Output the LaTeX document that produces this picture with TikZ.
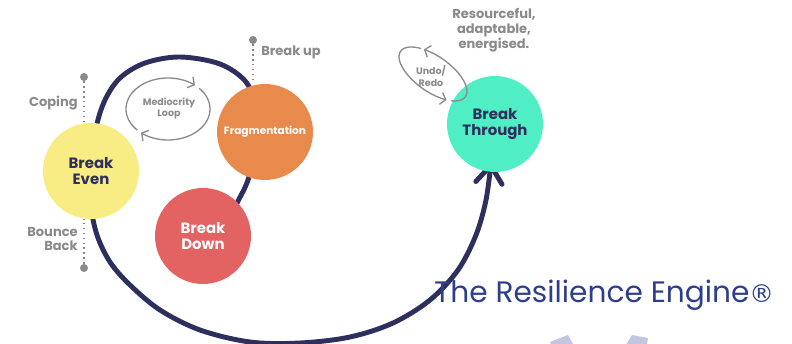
\documentclass[tikz,border=0pt]{standalone}
\usepackage{fontspec}
\setmainfont{Poppins}
\newfontfamily\markfont{DejaVu Sans}
\usetikzlibrary{arrows.meta}

\definecolor{engine}{RGB}{46,47,92}
\definecolor{evenfill}{RGB}{248,236,133}
\definecolor{fragfill}{RGB}{232,138,75}
\definecolor{downfill}{RGB}{227,98,98}
\definecolor{throughfill}{RGB}{80,238,196}
\definecolor{labelgray}{RGB}{138,138,138}
\definecolor{titleblue}{RGB}{47,62,140}
\definecolor{gearfill}{RGB}{196,197,224}

\tikzset{
  stage/.style={circle, minimum size=1.92cm, inner sep=0pt, align=center,
    font=\bfseries\fontsize{8.5}{9.5}\selectfont},
  side/.style={text=labelgray, inner sep=0pt,
    font=\bfseries\fontsize{7.4}{8.4}\selectfont},
  loopnote/.style={text=labelgray, inner sep=0pt, align=center,
    font=\bfseries\fontsize{5.4}{6.3}\selectfont},
  pin/.style={circle, fill=labelgray, minimum size=0.16cm, inner sep=0pt},
  pinline/.style={labelgray, dotted, line width=0.8pt},
  loopline/.style={labelgray, line width=0.75pt,
    -{Straight Barb[length=2.8pt, width=7pt]}},
}

\begin{document}
\begin{tikzpicture}[x=0.02cm, y=-0.02cm]
    \useasboundingbox (0,0) rectangle (792,344);

    % the engine path
    \coordinate (tip) at (491,163);
    \draw[engine, line width=2.8pt, line cap=round,
          -{Straight Barb[round, length=10pt, width=15pt]}]
      plot[smooth, tension=0.55] coordinates {
        (222,232) (237,203) (248,180) (257,145) (257,110) (246,82)
        (220,64) (180,57) (145,63) (120,78) (105,100) (96,128)
        (91,165) (91,205) (97,235) (110,262) (130,285) (160,310)
        (200,330) (250,342) (300,343) (350,337) (393,323) (430,300)
        (458,270) (476,235) (486,200) (tip)};

    % stages
    \node[stage, fill=evenfill, text=engine] (even) at (91,171) {Break\\Even};
    \node[stage, fill=fragfill, text=white,
          font=\bfseries\fontsize{6}{7}\selectfont] (frag) at (265,132) {Fragmentation};
    \node[stage, fill=downfill, text=white] (down) at (203,236) {Break\\Down};
    \node[stage, fill=throughfill, text=engine] (through) at (495,124) {Break\\Through};

    % pins
    \node[pin] (copingpin) at (84,77) {};
    \node[pin] (bouncepin) at (84,268) {};
    \node[pin] (uppin) at (253,40) {};
    \draw[pinline] (copingpin) -- (copingpin |- even.north);
    \draw[pinline] (bouncepin) -- (bouncepin |- even.south);
    \draw[pinline] (uppin) -- (uppin |- frag.north);

    \node[side, anchor=east] (coping) at (78,103) {Coping};
    \node[side, anchor=east, align=right] (bounce) at (78,239) {Bounce\\Back};
    \node[side, anchor=west] (breakup) at (261,52) {Break up};
    \node[side, align=center] (outcome) at (494,30) {Resourceful,\\adaptable,\\energised.};

    % mediocrity loop
    \draw[loopline] plot[domain=137:310, samples=40]
      ({168+42*cos(\x)}, {109+31*sin(\x)});
    \draw[loopline] plot[domain=-42:130, samples=40]
      ({168+42*cos(\x)}, {109+31*sin(\x)});
    \node[loopnote] (mediocrity) at (169,108) {Mediocrity\\Loop};

    % undo/redo loop
    \draw[loopline] plot[domain=0:163, samples=40]
      ({433+32.4*cos(40-\x)-10.2*sin(40-\x)}, {74+22.7*cos(40-\x)+14.6*sin(40-\x)});
    \draw[loopline] plot[domain=0:183, samples=40]
      ({433+32.4*cos(232-\x)-10.2*sin(232-\x)}, {74+22.7*cos(232-\x)+14.6*sin(232-\x)});
    \node[loopnote] (undo) at (431,76) {Undo/\\Redo};

    % title
    \node[anchor=base west, inner sep=0pt, text=titleblue,
          font=\fontsize{16.85}{18}\selectfont] (title) at (434,303)
      {The Resilience Engine{\markfont\fontsize{14}{16}\selectfont ®}};

    % logo teeth at the bottom
    \fill[gearfill] (550,342) -- (568,335) -- (573,344) -- (551,344) -- cycle;
    \fill[gearfill] (627,343) -- (632,335) -- (648,338) -- (647,344) -- (627,344) -- cycle;
\end{tikzpicture}
\end{document}
